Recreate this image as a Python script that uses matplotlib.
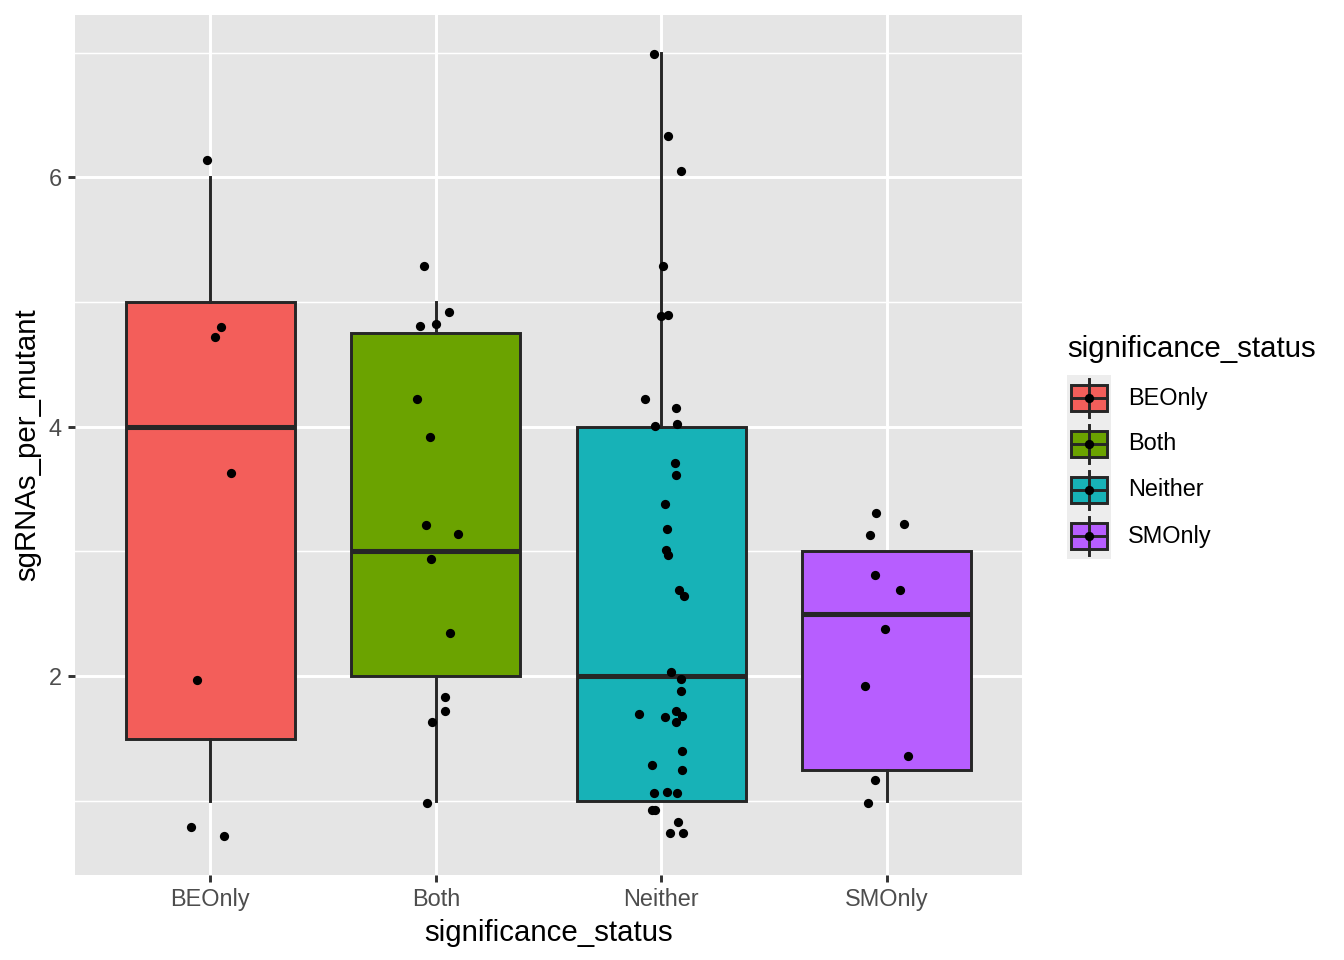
import matplotlib
matplotlib.use("Agg")
import matplotlib.pyplot as plt
from matplotlib.patches import Rectangle
import numpy as np

plt.rcParams['font.family'] = ['Liberation Sans', 'DejaVu Sans']

# categories and fill colours
groups = ['BEOnly', 'Both', 'Neither', 'SMOnly']
fills = ['#F35E5A', '#6BA300', '#17B2B7', '#B75EFF']

# sgRNAs per mutant, as plotted (jittered y) and the horizontal jitter of each point
beonly_y = [6.14, 4.80, 4.72, 3.63, 1.97, 0.79, 0.72]
beonly_dx = [-0.013, 0.049, 0.019, 0.090, -0.061, -0.084, 0.062]

both_y = [5.29, 4.92, 4.81, 4.82, 4.22, 3.92, 3.21, 3.14, 2.94, 2.35, 1.83, 1.72, 1.63, 0.98]
both_dx = [-0.052, 0.058, -0.069, 0.001, -0.081, -0.024, -0.043, 0.097, -0.021, 0.061,
           0.040, 0.040, -0.015, -0.038]

neither_y = [6.99, 6.33, 6.05, 5.29, 4.885, 4.90, 4.22, 4.15, 4.01, 4.02,
             3.71, 3.61, 3.38, 3.18, 3.01, 2.97, 2.69, 2.64,
             2.03, 1.98, 1.88, 1.70, 1.67, 1.72, 1.68, 1.63,
             1.40, 1.29, 1.25, 1.06, 1.07, 1.06, 0.925, 0.925, 0.83, 0.74, 0.74]
neither_dx = [-0.034, 0.032, 0.089, 0.007, -0.001, 0.031, -0.071, 0.065, -0.028, 0.068,
              0.061, 0.066, 0.015, 0.025, 0.021, 0.032, 0.080, 0.099,
              0.044, 0.087, 0.087, -0.097, 0.016, 0.065, 0.092, 0.066,
              0.092, -0.043, 0.092, -0.032, 0.027, 0.071, -0.043, -0.028, 0.075, 0.038, 0.095]

smonly_y = [3.31, 3.22, 3.13, 2.81, 2.69, 2.38, 1.92, 1.36, 1.17, 0.98]
smonly_dx = [-0.046, 0.075, -0.075, -0.053, 0.059, -0.007, -0.095, 0.095, -0.052, -0.081]

ys = [beonly_y, both_y, neither_y, smonly_y]
dxs = [beonly_dx, both_dx, neither_dx, smonly_dx]
values = [np.rint(y) for y in ys]   # the integer counts behind the jitter

line_col = '#262626'

fig = plt.figure(figsize=(7, 5), dpi=192)
W, H = 1344, 960
ax = fig.add_axes([75 / W, 1 - 875 / H, (1022 - 75) / W, (875 - 14.7) / H])

panel_bg = '#E5E5E5'
ax.set_facecolor(panel_bg)
for s in ax.spines.values():
    s.set_visible(False)

pos = np.arange(1, len(groups) + 1)
bp = ax.boxplot(values, positions=pos, widths=0.75, whis=1.5, patch_artist=True,
                showfliers=False, showcaps=False, zorder=3,
                medianprops=dict(color=line_col, linewidth=1.9),
                whiskerprops=dict(color=line_col, linewidth=1.1),
                boxprops=dict(edgecolor=line_col, linewidth=1.1))
for patch, c in zip(bp['boxes'], fills):
    patch.set_facecolor(c)

for p, y, dx in zip(pos, ys, dxs):
    ax.scatter(p + np.array(dx), y, s=12, color='black', zorder=4, linewidths=0)

allv = np.concatenate(ys)
lo, hi = allv.min(), allv.max()
pad = 0.05 * (hi - lo)
ax.set_ylim(lo - pad, hi + pad)
ax.set_xlim(0.4, 4.6)

ax.set_xticks(pos)
ax.set_xticklabels(groups)
ax.set_yticks([2, 4, 6])
ax.set_yticks([1, 3, 5, 7], minor=True)
ax.grid(which='major', color='white', linewidth=1.1)
ax.grid(which='minor', axis='y', color='white', linewidth=0.55)
ax.set_axisbelow(True)
ax.tick_params(which='major', length=2.75, width=1.1, color='#333333',
               labelsize=8.8, labelcolor='#4D4D4D', pad=2.2)
ax.tick_params(which='minor', length=0)
ax.set_xlabel('significance_status', fontsize=11, labelpad=2.75)
ax.set_ylabel('sgRNAs_per_mutant', fontsize=11, labelpad=2.75)

# legend, drawn by hand in the style of ggplot keys
fig.text(1067 / W, 1 - 349 / H, 'significance_status', fontsize=11, va='center', ha='left')
lg = fig.add_axes([1067 / W, 1 - 559 / H, 44 / W, 184 / H])
lg.set_xlim(0, 1)
lg.set_ylim(len(groups), 0)
lg.axis('off')
lg.add_patch(Rectangle((0, 0), 1, len(groups), facecolor='#EDEDED', edgecolor='none'))
for i, (g, c) in enumerate(zip(groups, fills)):
    cy = i + 0.5
    lg.plot([0.5, 0.5], [cy - 0.42, cy + 0.42], color=line_col, lw=1.1)
    lg.add_patch(Rectangle((0.1, cy - 0.28), 0.8, 0.56, facecolor=c,
                           edgecolor=line_col, lw=1.1))
    lg.plot([0.1, 0.9], [cy, cy], color=line_col, lw=1.1)
    lg.scatter([0.5], [cy], s=12, color='black', zorder=4, linewidths=0)
    fig.text(1128 / W, 1 - (375 + 46 * i + 23) / H, g, fontsize=8.8, va='center', ha='left')

fig.savefig('out.png', dpi=192)
